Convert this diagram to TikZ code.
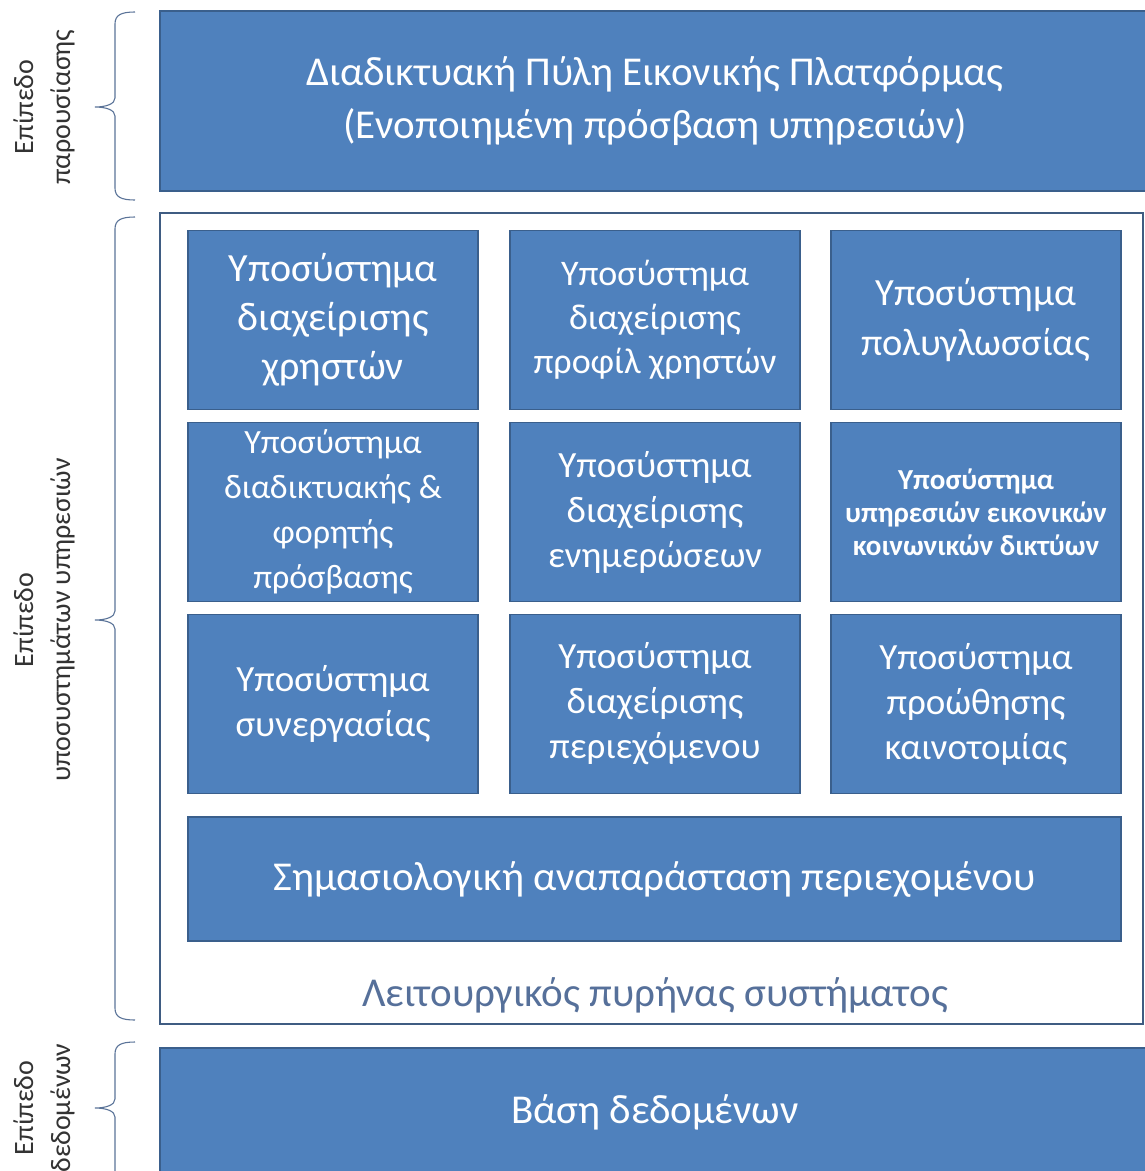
\documentclass[tikz,border=0pt]{standalone}
\usepackage{fontspec}
\setmainfont{Carlito}
\newfontfamily\sidefont{Carlito}
\definecolor{boxc}{HTML}{4F81BD}
\definecolor{bordc}{HTML}{3A5F8C}
\definecolor{outerc}{HTML}{3F5C82}
\definecolor{bracec}{HTML}{5A7398}
\definecolor{capc}{HTML}{56709A}
\definecolor{sidec}{HTML}{333333}
\tikzset{
  blk/.style={draw=bordc, line width=1.5pt, fill=boxc, text=white, align=center, inner sep=0pt},
  cell/.style={blk, minimum width=290pt, minimum height=179pt},
  bracepath/.style={draw=bracec, line width=1.1pt},
  sidelbl/.style={rotate=90, align=center, text=sidec, font=\sidefont\fontsize{28}{37}\selectfont},
  fsz/.style={font=\fontsize{#1}{#1*1.22}\selectfont},
}
\begin{document}
\begin{tikzpicture}[x=1pt,y=-1pt]
\useasboundingbox (0,0) rectangle (1145,1171);
% top presentation box
\node[blk, minimum width=990pt, minimum height=180pt, font=\fontsize{41}{53}\selectfont] (portal) at (655,101)
  {Διαδικτυακή Πύλη Εικονικής Πλατφόρμας\\(Ενοποιημένη πρόσβαση υπηρεσιών)};
% core frame
\node[draw=outerc, line width=2.5pt, fill=white, minimum width=983pt, minimum height=811pt, inner sep=0pt] (core) at (651.5,618.5) {};
% grid cells
\node[cell, font=\fontsize{40}{49}\selectfont] (c11) at (333,320) {Υποσύστημα\\διαχείρισης\\χρηστών};
\node[cell, font=\fontsize{36}{44}\selectfont] (c12) at (655,320) {Υποσύστημα\\διαχείρισης\\προφίλ χρηστών};
\node[cell, font=\fontsize{38.5}{50}\selectfont] (c13) at (976,320) {Υποσύστημα\\πολυγλωσσίας};
\node[cell, font=\fontsize{34}{45}\selectfont] (c21) at (333,512) {Υποσύστημα\\διαδικτυακής \&\\φορητής\\πρόσβασης};
\node[cell, font=\fontsize{37}{45}\selectfont] (c22) at (655,512) {Υποσύστημα\\διαχείρισης\\ενημερώσεων};
\node[cell, font=\bfseries\fontsize{29}{33}\selectfont] (c23) at (976,512) {Υποσύστημα\\υπηρεσιών εικονικών\\κοινωνικών δικτύων};
\node[cell, font=\fontsize{37}{45}\selectfont] (c31) at (333,704) {Υποσύστημα\\συνεργασίας};
\node[cell, font=\fontsize{37}{45}\selectfont] (c32) at (655,704) {Υποσύστημα\\διαχείρισης\\περιεχόμενου};
\node[cell, font=\fontsize{37}{45}\selectfont] (c33) at (976,704) {Υποσύστημα\\προώθησης\\καινοτομίας};
\node[blk, minimum width=933pt, minimum height=124pt, font=\fontsize{41}{50}\selectfont] (sem) at (654.5,879) {Σημασιολογική αναπαράσταση περιεχομένου};
\node[text=capc, font=\fontsize{41}{50}\selectfont, inner sep=0pt] (cap) at (655,995) {Λειτουργικός πυρήνας συστήματος};
% data box
\node[blk, minimum width=990pt, minimum height=128pt, font=\fontsize{41}{50}\selectfont] (db) at (655,1112) {Βάση δεδομένων};
% braces
\foreach \ys/\ym/\ye in {12/107/200, 217/620/1020, 1042/1108/1200}{
  \draw[bracepath] (135,\ys) .. controls (121,\ys) and (115,\ys+3) .. (115,\ys+12)
    -- (115,\ym-9) .. controls (115,\ym-3) and (106,\ym) .. (95,\ym)
    .. controls (106,\ym) and (115,\ym+3) .. (115,\ym+9)
    -- (115,\ye-12) .. controls (115,\ye-3) and (121,\ye) .. (135,\ye);
}
% side labels
\node[sidelbl] (l1) at (44,107) {Επίπεδο\\παρουσίασης};
\node[sidelbl] (l2) at (44,620) {Επίπεδο\\υποσυστημάτων υπηρεσιών};
\node[sidelbl] (l3) at (44,1108) {Επίπεδο\\δεδομένων};
\end{tikzpicture}
\end{document}
